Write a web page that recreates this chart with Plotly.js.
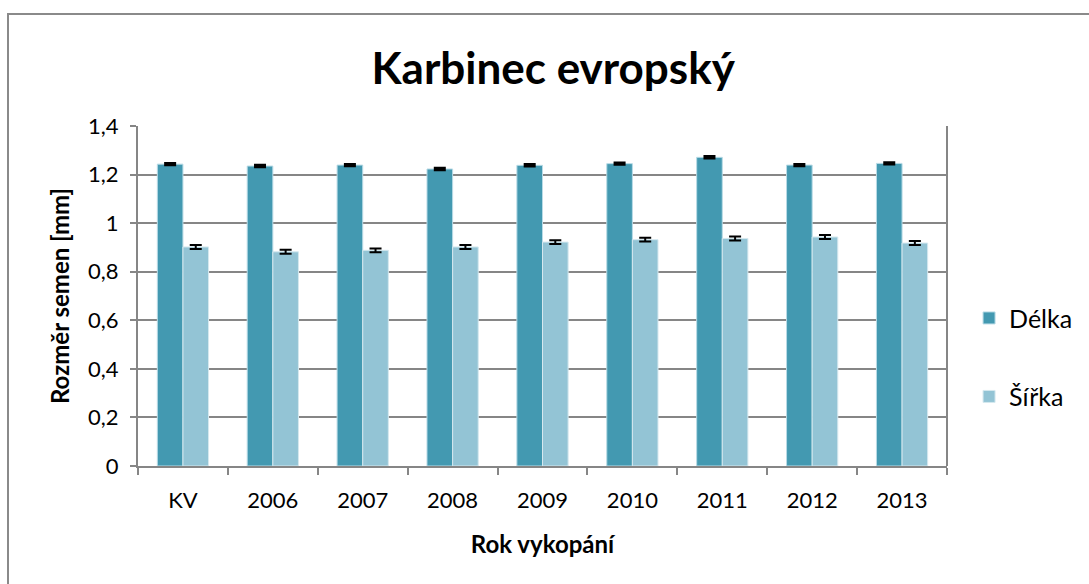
<!DOCTYPE html>
<html>
<head>
<meta charset="utf-8">
<script src="https://cdn.plot.ly/plotly-3.0.1.min.js"></script>
<style>
  html, body { margin: 0; padding: 0; background: #fff; }
  #frame { position: absolute; left: 7px; top: 13px; width: 1200px; height: 700px; border: 2px solid #8a8a8a; box-sizing: border-box; pointer-events: none; z-index: 5; }
  #chart { position: absolute; left: 0; top: 0; width: 1089px; height: 584px; }
</style>
</head>
<body>
<div id="chart"></div>
<div id="frame"></div>
<script>
const categories = ['KV', '2006', '2007', '2008', '2009', '2010', '2011', '2012', '2013'];
const delka = [1.243, 1.235, 1.239, 1.223, 1.238, 1.245, 1.271, 1.239, 1.246];
const delkaErr = [0.004, 0.004, 0.004, 0.004, 0.004, 0.004, 0.004, 0.004, 0.004];
const sirka = [0.902, 0.882, 0.888, 0.902, 0.922, 0.932, 0.937, 0.943, 0.918];
const sirkaErr = [0.008, 0.008, 0.008, 0.008, 0.008, 0.008, 0.008, 0.008, 0.008];
const seriesNames = ['Délka', 'Šířka'];

const FONT = 'Lato, "Open Sans", sans-serif';
const AX = '#868686';

const traces = [
  {
    type: 'bar', name: seriesNames[0], x: categories, y: delka, legendgroup: 'a',
    marker: { color: '#4399B1', line: { color: '#b9dbe6', width: 1 } },
    error_y: { type: 'data', array: delkaErr, visible: true, color: '#000', thickness: 2.5, width: 6 }
  },
  {
    type: 'bar', name: seriesNames[1], x: categories, y: sirka, legendgroup: 'b',
    marker: { color: '#93C4D5', line: { color: '#d5e8ef', width: 1 } },
    error_y: { type: 'data', array: sirkaErr, visible: true, color: '#000', thickness: 2, width: 6 }
  }
];

const layout = {
  width: 1089, height: 584,
  margin: { l: 138, r: 141, t: 126, b: 118, pad: 0 },
  paper_bgcolor: '#fff', plot_bgcolor: '#fff',
  separators: ', ',
  barmode: 'group', bargap: 0.43, bargroupgap: 0,
  font: { family: FONT, color: '#000' },
  title: { text: '<b>Karbinec evropský</b>', font: { family: FONT, size: 44, color: '#000' }, x: 0.508, xanchor: 'center', y: 0.883, yanchor: 'middle' },
  xaxis: {
    type: 'category',
    title: { text: '<b>Rok vykopání</b>', font: { family: FONT, size: 24 }, standoff: 24 },
    tickfont: { family: FONT, size: 22 },
    ticklabelstandoff: 14,
    showline: true, linecolor: AX, linewidth: 2,
    ticks: 'outside', tickson: 'boundaries', ticklen: 7, tickcolor: AX, tickwidth: 2,
    showgrid: false, mirror: false
  },
  yaxis: {
    range: [0, 1.4], dtick: 0.2, tick0: 0,
    title: { text: '<b>Rozměr semen [mm]</b>', font: { family: FONT, size: 24 }, standoff: 12 },
    tickfont: { family: FONT, size: 22 },
    ticklabelstandoff: 7,
    showline: true, linecolor: AX, linewidth: 2,
    ticks: 'outside', ticklen: 6, tickcolor: AX, tickwidth: 2,
    showgrid: true, gridcolor: AX, gridwidth: 2,
    zeroline: false
  },
  shapes: [
    { type: 'line', xref: 'paper', yref: 'paper', x0: 1, x1: 1, y0: 0, y1: 1, line: { color: AX, width: 2 } }
  ],
  legend: {
    x: 1.026, xanchor: 'left', y: 0.32, yanchor: 'middle',
    font: { family: FONT, size: 25 },
    tracegroupgap: 43, bgcolor: 'rgba(0,0,0,0)'
  },
  showlegend: true
};

Plotly.newPlot('chart', traces, layout, { displayModeBar: false, staticPlot: true });
</script>
</body>
</html>
